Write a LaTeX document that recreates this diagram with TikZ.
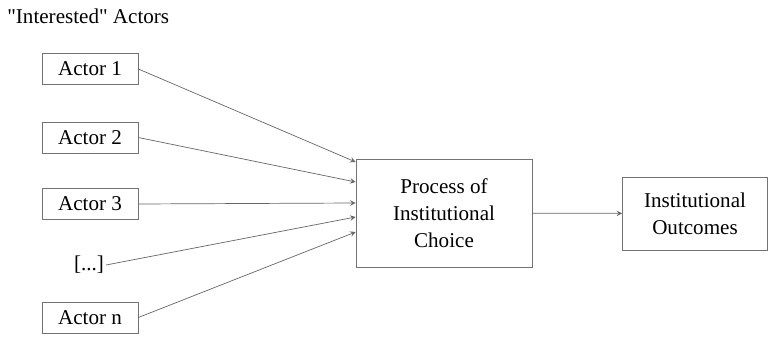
\documentclass[tikz,border=0pt]{standalone}
\usepackage{fontspec}
\setmainfont{Liberation Serif}
\usetikzlibrary{arrows}
\tikzset{
  actor box/.style={draw=black!55,thin,minimum width=1.92cm,minimum height=0.62cm,inner sep=0pt},
  choice box/.style={draw=black!55,thin,align=center,inner sep=0pt},
  actor link/.style={->,>=stealth,thin,draw=black!60},
  heading/.style={anchor=west,inner sep=0pt}
}

\begin{document}
\begin{tikzpicture}[x=1cm,y=1cm,font=\fontsize{12}{15.4}\selectfont]
  \useasboundingbox (0,0) rectangle (15.38,6.72);
  \node[heading] (title) at (0.14,6.4) {\textquotedbl Interested\textquotedbl{} Actors};

  \node[actor box] (act1) at (1.8,5.34) {Actor \oldstylenums{1}};
  \node[actor box] (act2) at (1.8,3.97) {Actor \oldstylenums{2}};
  \node[actor box] (act3) at (1.8,2.64) {Actor \oldstylenums{3}};
  \node[inner sep=1pt] (dots) at (1.78,1.42) {[...]};
  \node[actor box] (actn) at (1.8,0.37) {Actor n};

  \node[choice box,minimum width=3.52cm,minimum height=2.16cm] (choice) at (8.88,2.46)
    {Process of\\Institutional\\Choice};
  \node[choice box,minimum width=2.9cm,minimum height=1.46cm] (outcome) at (13.9,2.45)
    {Institutional\\Outcomes};

  \draw[actor link] (act1.east) -- ([yshift=1.02cm]choice.west);
  \draw[actor link] (act2.east) -- ([yshift=0.62cm]choice.west);
  \draw[actor link] (act3.east) -- ([yshift=0.2cm]choice.west);
  \draw[actor link] (dots.east) -- ([yshift=-0.08cm]choice.west);
  \draw[actor link] (actn.east) -- ([yshift=-0.38cm]choice.west);
  \draw[actor link] (choice) -- (outcome);
\end{tikzpicture}
\end{document}
